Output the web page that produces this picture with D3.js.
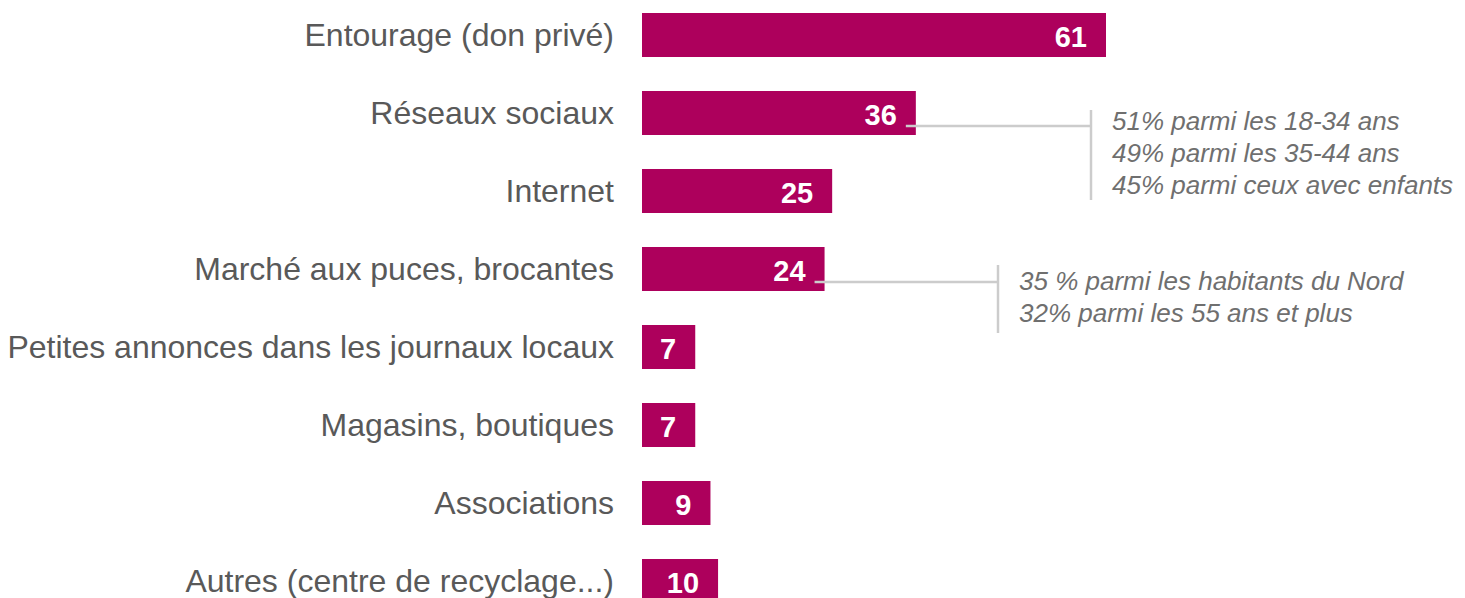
<!DOCTYPE html>
<html lang="fr">
<head>
<meta charset="utf-8">
<title>Sources</title>
<script src="https://cdn.jsdelivr.net/npm/d3@7"></script>
<style>
  body { margin: 0; background: #fff; }
  svg { display: block; font-family: "Liberation Sans", Arial, sans-serif; }
</style>
</head>
<body>
<script>
// data
var categories = ["Entourage (don privé)", "Réseaux sociaux", "Internet", "Marché aux puces, brocantes",
  "Petites annonces dans les journaux locaux", "Magasins, boutiques", "Associations", "Autres (centre de recyclage...)"];
var values = [61, 36, 25, 24, 7, 7, 9, 10];
var noteReseaux = ["51% parmi les 18-34 ans", "49% parmi les 35-44 ans", "45% parmi ceux avec enfants"];
var noteMarche = ["35 % parmi les habitants du Nord", "32% parmi les 55 ans et plus"];

var width = 1465, height = 598;
var svg = d3.select("body").append("svg").attr("width", width).attr("height", height);

var x = d3.scaleLinear().domain([0, 61]).range([642, 1106]);
var y = d3.scaleBand().domain(categories).range([13, 603]).paddingInner(34 / 78).paddingOuter(0);

var rows = categories.map(function(c, i) { return { cat: c, val: values[i] }; });

// bars
svg.selectAll("rect.bar").data(rows).enter().append("rect")
  .attr("class", "bar")
  .attr("x", x(0))
  .attr("y", function(d) { return y(d.cat); })
  .attr("width", function(d) { return x(d.val) - x(0); })
  .attr("height", y.bandwidth())
  .style("fill", "#ad005c");

// category labels
svg.selectAll("text.cat").data(rows).enter().append("text")
  .attr("class", "cat")
  .attr("x", 614)
  .attr("y", function(d) { return y(d.cat) + y.bandwidth() / 2; })
  .attr("dy", ".33em")
  .attr("text-anchor", "end")
  .style("font-size", "32px")
  .style("fill", "#595959")
  .text(function(d) { return d.cat; });

// value labels
svg.selectAll("text.val").data(rows).enter().append("text")
  .attr("class", "val")
  .attr("x", function(d) { return x(d.val) - 19; })
  .attr("y", function(d) { return y(d.cat) + y.bandwidth() / 2; })
  .attr("dy", ".40em")
  .attr("text-anchor", "end")
  .style("font-size", "29px")
  .style("font-weight", "bold")
  .style("fill", "#fff")
  .text(function(d) { return d.val; });

// callouts
function callout(cat, lines, xv, top, bottom, textShift) {
  var yc = y(cat) + 35;
  var x0 = x(values[categories.indexOf(cat)]) - 10;
  var g = svg.append("g");
  g.append("line").attr("x1", x0).attr("x2", xv).attr("y1", yc).attr("y2", yc)
    .style("stroke", "#cccccc").style("stroke-width", 2.5);
  g.append("line").attr("x1", xv).attr("x2", xv).attr("y1", top).attr("y2", bottom)
    .style("stroke", "#cccccc").style("stroke-width", 2.5);
  g.selectAll("text").data(lines).enter().append("text")
    .attr("x", xv + 21)
    .attr("y", function(d, i) { return yc + textShift + i * 32; })
    .style("font-size", "26px")
    .style("font-style", "italic")
    .style("fill", "#6f6f6f")
    .text(function(d) { return d; });
}
callout("Réseaux sociaux", noteReseaux, 1091, 110, 200, 4);
callout("Marché aux puces, brocantes", noteMarche, 998, 265, 333, 8);
</script>
</body>
</html>
